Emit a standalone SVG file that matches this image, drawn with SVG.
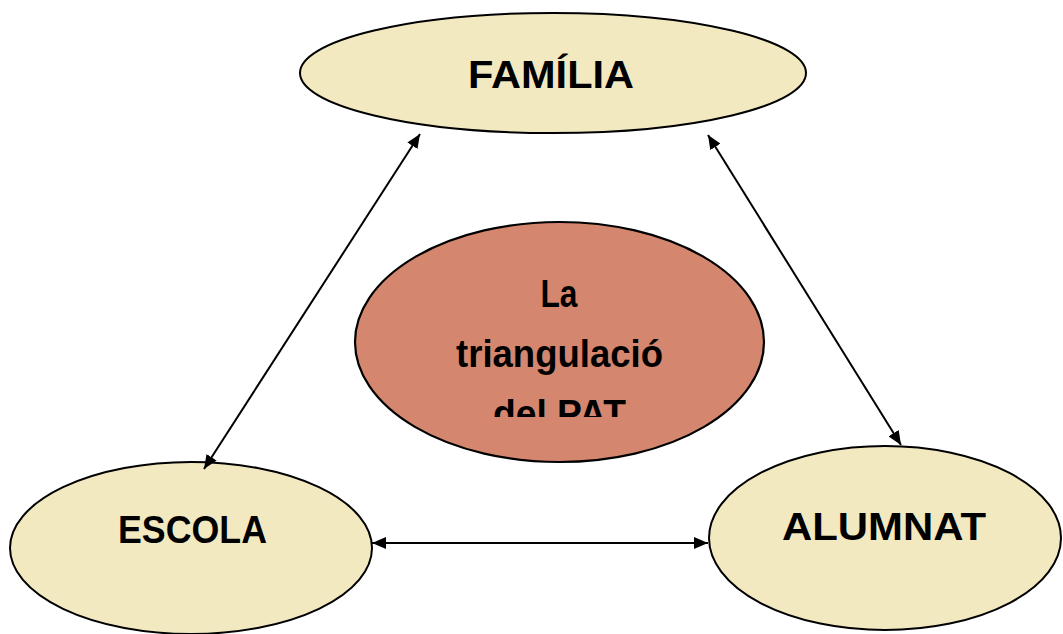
<svg xmlns="http://www.w3.org/2000/svg" width="1063" height="634" viewBox="0 0 1063 634">
<style>
.node{fill:#F3E9C1;stroke:#000;stroke-width:2}
.center{fill:#D4876E;stroke:#000;stroke-width:2.2}
.lbl{font-family:"Liberation Sans",Arial,sans-serif;font-weight:bold;font-size:38px;fill:#000;text-anchor:middle}
.conn{stroke:#000;stroke-width:2;fill:none;marker-start:url(#ah);marker-end:url(#ah)}
</style>
<defs>
<marker id="ah" markerUnits="userSpaceOnUse" markerWidth="14" markerHeight="12" viewBox="0 0 14 12" refX="14" refY="6" orient="auto-start-reverse">
<path d="M0,0 L14,6 L0,12 z" fill="#000"/>
</marker>
<clipPath id="cc"><rect x="350" y="220" width="420" height="197"/></clipPath>
</defs>
<rect width="1063" height="634" fill="#fff"/>
<g id="familia">
<ellipse class="node" cx="553" cy="73" rx="253" ry="60"/>
<text class="lbl" x="551" y="88" textLength="166" lengthAdjust="spacingAndGlyphs">FAMÍLIA</text>
</g>
<g id="triangulacio">
<ellipse class="center" cx="559.5" cy="342" rx="204.5" ry="120"/>
<g clip-path="url(#cc)">
<text class="lbl" x="559" y="307" textLength="37" lengthAdjust="spacingAndGlyphs">La</text>
<text class="lbl" x="559.5" y="367" textLength="207" lengthAdjust="spacingAndGlyphs">triangulació</text>
<text class="lbl" x="559.5" y="427" textLength="133" lengthAdjust="spacingAndGlyphs">del PAT</text>
</g>
</g>
<g id="escola">
<ellipse class="node" cx="191" cy="548" rx="181" ry="86"/>
<text class="lbl" x="192.5" y="543" textLength="149" lengthAdjust="spacingAndGlyphs">ESCOLA</text>
</g>
<g id="alumnat">
<ellipse class="node" cx="885" cy="538" rx="176" ry="92"/>
<text class="lbl" x="884" y="540" textLength="204" lengthAdjust="spacingAndGlyphs">ALUMNAT</text>
</g>
<g id="connectors">
<line class="conn" x1="420" y1="134" x2="204" y2="469"/>
<line class="conn" x1="708" y1="135" x2="901" y2="445"/>
<line class="conn" x1="372" y1="543" x2="708" y2="543"/>
</g>
</svg>
